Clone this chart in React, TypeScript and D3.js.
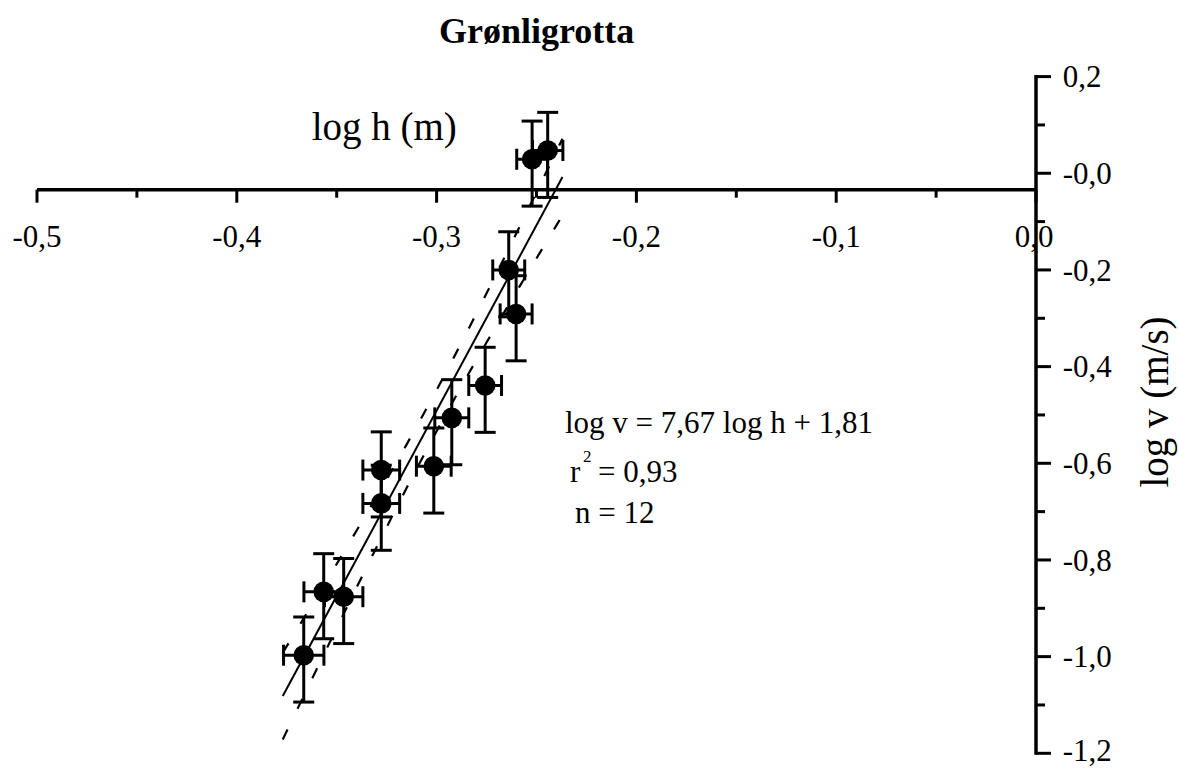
import React from "react";
import * as d3 from "d3";

// ---- data ----
const logH = [-0.2522, -0.2444, -0.2639, -0.2602, -0.2757, -0.2924, -0.3014, -0.3277, -0.3277, -0.3565, -0.3465, -0.3665];
const logV = [0.029, 0.047, -0.2, -0.291, -0.439, -0.506, -0.606, -0.614, -0.683, -0.866, -0.876, -0.997];
const logHErr = [0.0077, 0.0076, 0.008, 0.008, 0.0082, 0.0085, 0.0087, 0.0092, 0.0092, 0.0099, 0.0096, 0.0101];
const logVErrUp = [0.079, 0.079, 0.079, 0.079, 0.079, 0.079, 0.079, 0.079, 0.079, 0.079, 0.079, 0.079];
const logVErrDown = [0.097, 0.097, 0.097, 0.097, 0.097, 0.097, 0.097, 0.097, 0.097, 0.097, 0.097, 0.097];

const slope = 7.67;
const intercept = 1.81;
const fitRange = [-0.377, -0.237];
const bandK = 0.148; // confidence band scale

const xMajor = [-0.5, -0.4, -0.3, -0.2, -0.1, 0];
const xMajorLabels = ["-0,5", "-0,4", "-0,3", "-0,2", "-0,1", "0,0"];
const xMinor = [-0.45, -0.35, -0.25, -0.15, -0.05];
const yMajor = [0.2, 0, -0.2, -0.4, -0.6, -0.8, -1.0, -1.2];
const yMajorLabels = ["0,2", "-0,0", "-0,2", "-0,4", "-0,6", "-0,8", "-1,0", "-1,2"];
const yMinor = [0.1, -0.1, -0.3, -0.5, -0.7, -0.9, -1.1];
const xAxisAt = -0.034;

const W = 1178;
const H = 769;
const FONT = "'Liberation Serif', 'Times New Roman', Times, serif";

export default function App() {
  const x = d3.scaleLinear().domain([-0.5, 0]).range([37, 1036]);
  const y = d3.scaleLinear().domain([0.2, -1.2]).range([76.6, 753.3]);

  const n = logH.length;
  const xm = d3.mean(logH) as number;
  const sxx = d3.sum(logH, (v) => (v - xm) * (v - xm));
  const hw = (v: number) => bandK * Math.sqrt(1 / n + ((v - xm) * (v - xm)) / sxx);
  const samples = d3.range(0, 101).map((i) => fitRange[0] + ((fitRange[1] - fitRange[0]) * i) / 100);
  const line = d3
    .line<[number, number]>()
    .x((d) => x(d[0]))
    .y((d) => y(d[1]));
  const upper = line(samples.map((v) => [v, slope * v + intercept + hw(v)] as [number, number])) || "";
  const lower = line(samples.map((v) => [v, slope * v + intercept - hw(v)] as [number, number])) || "";
  const fit = line(fitRange.map((v) => [v, slope * v + intercept] as [number, number])) || "";

  const axY = y(xAxisAt);
  const axX = x(0);
  const cap = 10.5;

  return (
    <div style={{ position: "absolute", left: 0, top: 0 }}>
      <svg width={W} height={H} style={{ display: "block", background: "#fff" }} fontFamily={FONT}>
        <rect width={W} height={H} fill="#fff" />
        {/* title */}
        <text x={536.7} y={42.5} textAnchor="middle" fontWeight="bold" fontSize={36}>
          Grønligrotta
        </text>

        {/* x axis */}
        <line x1={x(-0.5)} x2={axX} y1={axY} y2={axY} stroke="#000" strokeWidth={3.5} />
        {xMajor.map((t) => (
          <line key={"xM" + t} x1={x(t)} x2={x(t)} y1={axY} y2={axY + 13} stroke="#000" strokeWidth={3} />
        ))}
        {xMinor.map((t) => (
          <line key={"xm" + t} x1={x(t)} x2={x(t)} y1={axY} y2={axY + 8} stroke="#000" strokeWidth={3} />
        ))}
        {xMajor.map((t, i) => (
          <text key={"xl" + t} x={x(t) - (t === 0 ? 2 : 0)} y={247} textAnchor="middle" fontSize={31}>
            {xMajorLabels[i]}
          </text>
        ))}
        <text x={311.7} y={140} fontSize={39}>
          log h (m)
        </text>

        {/* y axis */}
        <line x1={axX} x2={axX} y1={y(0.2) - 1.5} y2={y(-1.2) + 1.5} stroke="#000" strokeWidth={3.5} />
        {yMajor.map((t) => (
          <line key={"yM" + t} x1={axX} x2={axX + 15} y1={y(t)} y2={y(t)} stroke="#000" strokeWidth={3} />
        ))}
        {yMinor.map((t) => (
          <line key={"ym" + t} x1={axX} x2={axX + 9} y1={y(t)} y2={y(t)} stroke="#000" strokeWidth={3} />
        ))}
        {yMajor.map((t, i) => (
          <text key={"yl" + t} x={1062.7} y={Math.min(y(t) + 10.7, 761)} fontSize={31}>
            {yMajorLabels[i]}
          </text>
        ))}
        <text transform={`translate(1168, 402) rotate(-90)`} textAnchor="middle" fontSize={39}>
          log v (m/s)
        </text>

        {/* regression + confidence band */}
        <path d={upper} fill="none" stroke="#000" strokeWidth={2.2} strokeDasharray="11 23" />
        <path d={lower} fill="none" stroke="#000" strokeWidth={2.2} strokeDasharray="11 23" />
        <path d={fit} fill="none" stroke="#000" strokeWidth={2} />

        {/* error bars */}
        {logH.map((hv, i) => {
          const cx = x(hv);
          const cy = y(logV[i]);
          const yt = y(logV[i] + logVErrUp[i]);
          const yb = y(logV[i] - logVErrDown[i]);
          const xl = x(hv - logHErr[i]);
          const xr = x(hv + logHErr[i]);
          return (
            <g key={"e" + i} stroke="#000" strokeWidth={3}>
              <line x1={cx} x2={cx} y1={yt} y2={yb} />
              <line x1={cx - cap} x2={cx + cap} y1={yt} y2={yt} />
              <line x1={cx - cap} x2={cx + cap} y1={yb} y2={yb} />
              <line x1={xl} x2={xr} y1={cy} y2={cy} />
              <line x1={xl} x2={xl} y1={cy - cap} y2={cy + cap} />
              <line x1={xr} x2={xr} y1={cy - cap} y2={cy + cap} />
            </g>
          );
        })}
        {logH.map((hv, i) => (
          <circle key={"p" + i} cx={x(hv)} cy={y(logV[i])} r={10.3} fill="#000" />
        ))}

        {/* annotation */}
        <text x={565} y={433.3} fontSize={31}>
          log v = 7,67 log h + 1,81
        </text>
        <text x={570} y={481.7} fontSize={31}>
          r
        </text>
        <text x={583} y={461.7} fontSize={17}>
          2
        </text>
        <text x={598} y={481.7} fontSize={31}>
          = 0,93
        </text>
        <text x={575} y={523.3} fontSize={31}>
          n = 12
        </text>
      </svg>
    </div>
  );
}
